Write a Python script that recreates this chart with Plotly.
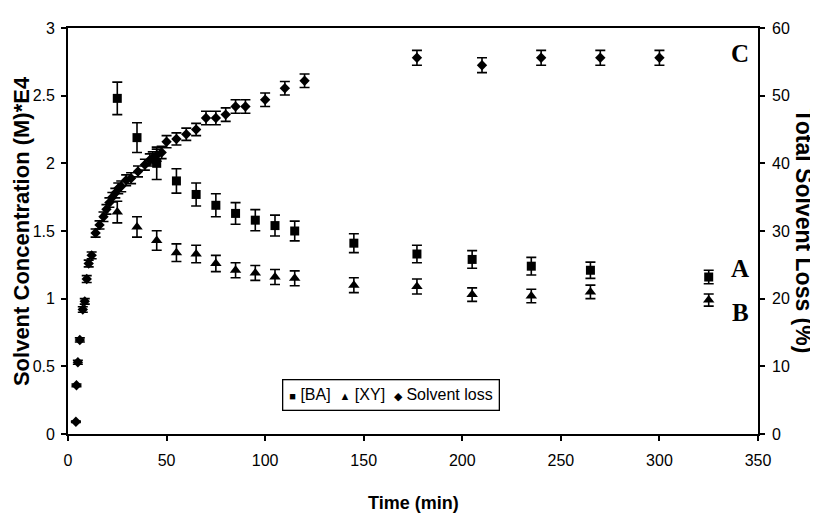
import plotly.graph_objects as go

# ---- data ----
time_conc = [25, 35, 45, 55, 65, 75, 85, 95, 105, 115, 145, 177, 205, 235, 265, 325]
ba_conc = [2.48, 2.19, 2.00, 1.87, 1.77, 1.69, 1.63, 1.58, 1.54, 1.50, 1.41, 1.33, 1.29, 1.24, 1.21, 1.16]
ba_err = [0.12, 0.11, 0.12, 0.09, 0.085, 0.085, 0.08, 0.078, 0.077, 0.073, 0.07, 0.065, 0.065, 0.065, 0.06, 0.05]
xy_conc = [1.64, 1.53, 1.43, 1.34, 1.33, 1.26, 1.21, 1.19, 1.16, 1.15, 1.10, 1.09, 1.03, 1.02, 1.05, 0.99]
xy_err = [0.08, 0.075, 0.072, 0.065, 0.065, 0.06, 0.055, 0.055, 0.055, 0.055, 0.055, 0.055, 0.05, 0.05, 0.05, 0.045]

time_loss = [4, 4.3, 5, 6, 7.5, 8.5, 9.5, 10.5, 12, 14, 16, 18, 19.5, 21, 22.5, 24, 25.5, 27,
             29.5, 32, 35.5, 39, 41.5, 43, 45, 47.5, 50, 55, 60, 65, 70, 75, 80, 85, 90,
             100, 110, 120, 177, 210, 240, 270, 300]
solvent_loss = [1.8, 7.2, 10.6, 13.9, 18.4, 19.6, 22.9, 25.2, 26.4, 29.7, 30.9, 32.1, 33.2, 34.2,
                35.0, 35.6, 36.3, 36.6, 37.5, 37.8, 38.8, 39.8, 40.5, 40.8, 41.2, 41.6, 43.2,
                43.6, 44.3, 45.0, 46.7, 46.7, 47.2, 48.4, 48.4, 49.4, 51.1, 52.2, 55.6, 54.5,
                55.6, 55.6, 55.6]
loss_err = [0.1, 0.2, 0.3, 0.3, 0.4, 0.4, 0.5, 0.5, 0.5, 0.6, 0.6, 0.7, 0.7, 0.7, 0.7, 0.7, 0.8, 0.8,
            0.8, 0.8, 0.8, 0.8, 0.9, 0.9, 0.9, 0.9, 0.9, 0.9, 0.9, 0.9, 1.0, 1.0, 1.0, 1.0, 1.0,
            1.0, 1.0, 1.0, 1.1, 1.1, 1.1, 1.1, 1.1]

x_ticks = [0, 50, 100, 150, 200, 250, 300, 350]
y_ticks = [0, 0.5, 1, 1.5, 2, 2.5, 3]
y_ticklabels = ["0", "0.5", "1", "1.5", "2", "2.5", "3"]
y2_ticks = [0, 10, 20, 30, 40, 50, 60]

SANS = "Arial, Liberation Sans, sans-serif"
SERIF = "Times New Roman, Liberation Serif, serif"

def eb(arr):
    return dict(type="data", array=arr, visible=True, color="black", thickness=1.6, width=5)

fig = go.Figure()
fig.add_trace(go.Scatter(x=time_conc, y=ba_conc, mode="markers", name="[BA]",
                         marker=dict(symbol="square", size=9, color="black"),
                         error_y=eb(ba_err)))
fig.add_trace(go.Scatter(x=time_conc, y=xy_conc, mode="markers", name="[XY]",
                         marker=dict(symbol="triangle-up", size=10, color="black"),
                         error_y=eb(xy_err)))
fig.add_trace(go.Scatter(x=time_loss, y=solvent_loss, mode="markers", name="Solvent loss",
                         marker=dict(symbol="diamond", size=8, color="black"),
                         error_y=eb(loss_err), yaxis="y2"))

axis_common = dict(showgrid=False, zeroline=False, showline=True, linecolor="black",
                   linewidth=1.8, ticks="outside", ticklen=5, tickwidth=1.5, tickcolor="black",
                   tickfont=dict(family=SANS, size=16, color="black"))

fig.update_layout(
    width=818, height=525,
    margin=dict(l=60, r=68, t=16, b=99),
    paper_bgcolor="white", plot_bgcolor="white",
    font=dict(family=SANS, size=16, color="black"),
    showlegend=False,
    xaxis=dict(range=[0, 350], tickvals=x_ticks, mirror=True, ticklabelstandoff=6, **axis_common),
    yaxis=dict(range=[0, 3], tickvals=y_ticks, ticktext=y_ticklabels, ticklabelstandoff=3,
               **axis_common),
    yaxis2=dict(range=[0, 60], tickvals=y2_ticks, overlaying="y", side="right",
                ticklabelstandoff=4, **axis_common),
)

# axis titles
fig.add_annotation(text="<b>Solvent Concentration (M)*E4</b>", textangle=-90, xref="paper",
                   yref="paper", x=-0.068, y=0.5, xanchor="center", yanchor="middle",
                   showarrow=False, font=dict(family=SANS, size=22))
fig.add_annotation(text="<b>Total Solvent Loss (%)</b>", textangle=90, xref="paper", yref="paper",
                   x=1.066, y=0.5, xanchor="center", yanchor="middle", showarrow=False,
                   font=dict(family=SANS, size=23))
fig.add_annotation(text="<b>Time (min)</b>", xref="paper", yref="paper", x=0.5, y=-0.17,
                   xanchor="center", yanchor="middle", showarrow=False,
                   font=dict(family=SANS, size=18))

# legend box
legend_text = ('<span style="font-size:11px">■</span> [BA]  '
               '<span style="font-size:11px">▲</span> [XY]  '
               '<span style="font-size:11px">◆</span> Solvent loss')
fig.add_annotation(text=legend_text, x=164, y=0.285, xref="x", yref="y", showarrow=False,
                   xanchor="center", yanchor="middle",
                   font=dict(family=SANS, size=16), bordercolor="black", borderwidth=1.3,
                   borderpad=6, bgcolor="white")

# curve labels
fig.add_annotation(text="<b>C</b>", x=341, y=56.3, xref="x", yref="y2", showarrow=False,
                   font=dict(family=SERIF, size=25))
fig.add_annotation(text="<b>A</b>", x=341, y=1.22, xref="x", yref="y", showarrow=False,
                   font=dict(family=SERIF, size=25))
fig.add_annotation(text="<b>B</b>", x=341, y=0.9, xref="x", yref="y", showarrow=False,
                   font=dict(family=SERIF, size=25))

fig.write_html("out.html")
